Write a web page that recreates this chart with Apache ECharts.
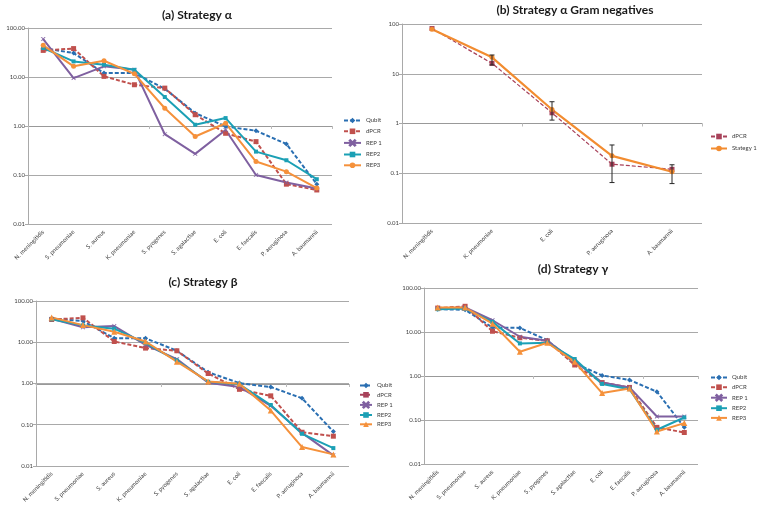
<!DOCTYPE html>
<html><head><meta charset="utf-8">
<script src="https://cdn.jsdelivr.net/npm/echarts@6/dist/echarts.min.js"></script>
<style>html,body{margin:0;padding:0;background:#fff}#c{width:757px;height:505px}</style>
</head><body><div id="c"></div>
<script>
const categories = ['N. meningitidis','S. pneumoniae','S. aureus','K. pneumoniae','S. pyogenes','S. agalactiae','E. coli','E. faecalis','P. aeruginosa','A. baumannii'];
const gramNegCategories = ['N. meningitidis','K. pneumoniae','E. coli','P. aeruginosa','A. baumannii'];

// (a) Strategy alpha
const aQubit = [39, 30.8, 12, 12, 5.75, 1.83, 0.98, 0.8, 0.43, 0.065];
const aDPCR  = [34.9, 38, 10.3, 6.95, 5.93, 1.7, 0.71, 0.48, 0.065, 0.0495];
const aREP1  = [59.6, 9.5, 16.5, 14, 0.68, 0.27, 0.83, 0.1, 0.07, 0.053];
const aREP2  = [39, 20.8, 17.8, 14, 3.9, 1.06, 1.45, 0.30, 0.20, 0.082];
const aREP3  = [44.2, 16.5, 21.5, 11.6, 2.3, 0.61, 1.14, 0.188, 0.117, 0.054];

// (b) Strategy alpha Gram negatives
const bDPCR      = [81, 16.2, 1.64, 0.152, 0.12];
const bStrategy1 = [78, 21.4, 1.91, 0.224, 0.107];
const bErrLow    = [null, 15, 1.17, 0.065, 0.062];
const bErrHigh   = [null, 23.8, 2.74, 0.37, 0.148];

// (c) Strategy beta
const cQubit = [37.7, 32.5, 12.5, 12.5, 6.2, 1.87, 1.02, 0.82, 0.437, 0.068];
const cDPCR  = [35.6, 39, 10.4, 7.2, 6.2, 1.74, 0.72, 0.50, 0.0655, 0.0525];
const cREP1  = [37, 23, 24.7, 8.6, 3.9, 1.04, 0.82, 0.286, 0.063, 0.018];
const cREP2  = [36, 25.6, 21.3, 9.5, 3.6, 1.1, 0.95, 0.30, 0.06, 0.027];
const cREP3  = [40, 26, 18, 10.4, 3.37, 1.12, 0.98, 0.22, 0.0286, 0.019];

// (d) Strategy gamma
const dQubit = [33, 32, 12.6, 12.4, 6.5, 1.94, 1.03, 0.81, 0.44, 0.068];
const dDPCR  = [35, 38.4, 10.4, 7.4, 6.3, 1.78, 0.71, 0.55, 0.068, 0.052];
const dREP1  = [34, 36, 18.5, 7.8, 6.3, 2.19, 0.71, 0.55, 0.12, 0.12];
const dREP2  = [33, 34, 17, 5.5, 5.7, 2.43, 0.66, 0.5, 0.06, 0.114];
const dREP3  = [36, 36, 15.5, 3.55, 5.7, 2.1, 0.41, 0.52, 0.055, 0.085];

const fmt2 = v => Number(v).toFixed(2);
const fmtB = v => { const e = Math.round(Math.log10(v)); return e >= 0 ? String(Math.pow(10, e)) : Number(v).toFixed(-e); };

const C = { qubit:'#2a6fb2', dpcr:'#c0504d', rep1:'#7f60a0', rep2:'#1ba0b5', rep3:'#f5913b', bdpcr:'#a8425a', bstrat:'#f28c30' };
const GRID_COL = '#a9a9a9';
const XMARK = 'path://M0,1L1,0L5,4L9,0L10,1L6,5L10,9L9,10L5,6L1,10L0,9L4,5Z';

const grids = [
  {left:28, top:28, width:304, height:196},
  {left:402, top:24, width:300, height:199},
  {left:36, top:301, width:313, height:166},
  {left:424, top:288, width:274, height:176}
];
const gridList = [], xAxes = [], yAxes = [];
grids.forEach((g, i) => {
  const cats = i === 1 ? gramNegCategories : categories;
  gridList.push(Object.assign({containLabel:false}, g));
  gridList.push(Object.assign({containLabel:false}, g, {height: g.height/2}));
  xAxes.push({type:'category', gridIndex:2*i, data:cats, boundaryGap:true,
    axisLine:{show:false}, axisTick:{show:false},
    axisLabel:{rotate:45, interval:0, fontSize:6, color:'#404040', margin:7}});
  xAxes.push({type:'category', gridIndex:2*i+1, data:cats, boundaryGap:true,
    axisLine:{show:true, lineStyle:{color:'#999'}}, axisTick:{show:true, length:3, lineStyle:{color:'#bbb'}},
    axisLabel:{show:false}});
  yAxes.push({type:'log', logBase:10, min:0.01, max:100, gridIndex:2*i,
    axisLine:{show:true, lineStyle:{color:GRID_COL}}, axisTick:{show:true, length:3, lineStyle:{color:GRID_COL}},
    splitLine:{show:true, lineStyle:{color:GRID_COL}},
    axisLabel:{fontSize:6, color:'#404040', margin:3, formatter: i === 1 ? fmtB : fmt2}});
  yAxes.push({type:'value', gridIndex:2*i+1, show:false});
});

function line(name, data, axis, color, dashed, symbol, size, width) {
  return {type:'line', name, data, xAxisIndex:axis, yAxisIndex:axis,
    symbol, symbolSize:size, showSymbol:true,
    lineStyle:{color, width: width || 2, type: dashed ? [4,2] : 'solid'},
    itemStyle:{color, borderColor:color, borderWidth: symbol === XMARK ? 0.3 : 0}};
}
function panelSeries(axis, q, d, r1, r2, r3, rep3sym, suffix) {
  return [
    line('Qubit' + suffix, q, axis, C.qubit, true, 'diamond', 5),
    line('dPCR' + suffix, d, axis, C.dpcr, true, 'rect', 5),
    line('REP 1' + suffix, r1, axis, C.rep1, false, XMARK, 4),
    line('REP2' + suffix, r2, axis, C.rep2, false, 'rect', 4),
    line('REP3' + suffix, r3, axis, C.rep3, false, rep3sym, rep3sym === 'triangle' ? 6 : 5)
  ];
}

const errData = [];
bErrLow.forEach((lo, i) => { if (lo != null) errData.push([i, lo, bErrHigh[i]]); });

const series = [].concat(
  panelSeries(0, aQubit, aDPCR, aREP1, aREP2, aREP3, 'circle', ''),
  [line('dPCR ', bDPCR, 2, C.bdpcr, true, 'rect', 5, 1.2),
   line('Stategy 1', bStrategy1, 2, C.bstrat, false, 'circle', 5, 2.2),
   {type:'custom', xAxisIndex:2, yAxisIndex:2, data:errData, z:10,
    encode:{x:0, y:[1,2]},
    renderItem:(params, api) => {
      const x = api.value(0);
      const lo = api.coord([x, api.value(1)]);
      const hi = api.coord([x, api.value(2)]);
      const w = 2.5, st = {stroke:'#262626', lineWidth:1};
      return {type:'group', children:[
        {type:'line', shape:{x1:lo[0], y1:lo[1], x2:hi[0], y2:hi[1]}, style:st},
        {type:'line', shape:{x1:lo[0]-w, y1:lo[1], x2:lo[0]+w, y2:lo[1]}, style:st},
        {type:'line', shape:{x1:hi[0]-w, y1:hi[1], x2:hi[0]+w, y2:hi[1]}, style:st}
      ]};
    }}],
  panelSeries(4, cQubit, cDPCR, cREP1, cREP2, cREP3, 'triangle', ' '),
  panelSeries(6, dQubit, dDPCR, dREP1, dREP2, dREP3, 'triangle', '  ')
);

const legendBase = {orient:'vertical', padding:0, itemHeight:7, textStyle:{fontSize:6, color:'#404040'}, selectedMode:false};
const names = s => ['Qubit','dPCR','REP 1','REP2','REP3'].map(n => n + s);

const titleStyle = {fontSize:12, fontWeight:'bold', color:'#1a1a1a', fontFamily:'Lato'};
const option = {
  animation:false,
  textStyle:{fontFamily:'Lato'},
  title:[
    {text:'(a) Strategy α', left:197, top:9, padding:0, textAlign:'center', textStyle:titleStyle},
    {text:'(b) Strategy α Gram negatives', left:575, top:4, padding:0, textAlign:'center', textStyle:titleStyle},
    {text:'(c) Strategy β', left:203, top:276, padding:0, textAlign:'center', textStyle:titleStyle},
    {text:'(d) Strategy γ', left:573, top:263, padding:0, textAlign:'center', textStyle:titleStyle}
  ],
  legend:[
    Object.assign({left:343, top:117.5, itemWidth:17, itemGap:4.8, data:names('')}, legendBase),
    Object.assign({left:710, top:133.5, itemWidth:16, itemGap:6, data:['dPCR ','Stategy 1']}, legendBase),
    Object.assign({left:359, top:382.5, itemWidth:12, itemGap:3.3, data:names(' ')}, legendBase),
    Object.assign({left:710, top:374.5, itemWidth:16, itemGap:3.7, data:names('  ')}, legendBase)
  ],
  grid:gridList, xAxis:xAxes, yAxis:yAxes, series
};
const chart = echarts.init(document.getElementById('c'), null, {renderer:'canvas'});
chart.setOption(option);
</script></body></html>
